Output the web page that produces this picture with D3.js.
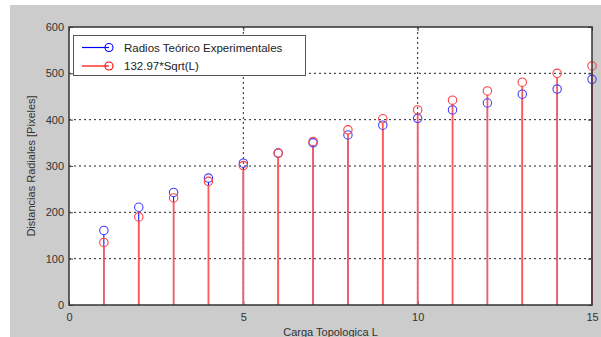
<!DOCTYPE html>
<html><head><meta charset="utf-8">
<script src="https://cdn.jsdelivr.net/npm/d3@7"></script>
<style>body{margin:0;background:#fff;}svg{display:block;font-family:"Liberation Sans",Arial,sans-serif;}</style>
</head><body>
<svg id="c" width="601" height="337"></svg>
<script>
const cargas = [1,2,3,4,5,6,7,8,9,10,11,12,13,14,15];
const radiosExp = [161,211,243,274,306,328,350,367,388,403,421,436,455,466,487];
const radiosTeo = [135,190,231,267,301,328,353,378,402,421,442,462,481,500,516];
const yTicks = [0,100,200,300,400,500,600];
const xTicks = [0,5,10,15];
const legendLabels = ["Radios Teórico Experimentales","132.97*Sqrt(L)"];

const svg = d3.select("#c");
const W=601,H=337;
const m={l:69,t:27,r:592,b:305};
svg.append("rect").attr("x",10).attr("y",5).attr("width",W-10).attr("height",H-5).attr("fill","#cccccc");
svg.append("rect").attr("x",m.l).attr("y",m.t).attr("width",m.r-m.l).attr("height",m.b-m.t).attr("fill","#fff");

const x=d3.scaleLinear().domain([0,15]).range([m.l,m.r]);
const y=d3.scaleLinear().domain([0,600]).range([m.b,m.t]);

const g=svg.append("g");
g.selectAll(".gy").data(yTicks.filter(d=>d>0&&d<600)).enter().append("line")
 .attr("x1",m.l).attr("x2",m.r).attr("y1",d=>y(d)).attr("y2",d=>y(d))
 .attr("stroke","#222").attr("stroke-width",1).attr("stroke-dasharray","2,3");
g.selectAll(".gx").data(xTicks.filter(d=>d>0&&d<15)).enter().append("line")
 .attr("y1",m.t).attr("y2",m.b).attr("x1",d=>x(d)).attr("x2",d=>x(d))
 .attr("stroke","#222").attr("stroke-width",1).attr("stroke-dasharray","2,3");

const ax=d3.axisBottom(x).tickValues(xTicks).tickSize(-4).tickPadding(8);
const ay=d3.axisLeft(y).tickValues(yTicks).tickSize(-4).tickPadding(5);
const gx=svg.append("g").attr("transform",`translate(0,${m.b})`).call(ax);
const gy=svg.append("g").attr("transform",`translate(${m.l},0)`).call(ay);
[gx,gy].forEach(a=>{a.select(".domain").remove();a.selectAll("line").attr("stroke","#444");
 a.selectAll("text").attr("fill","#333").style("font-size","11px").style("font-family","'Liberation Sans',Arial,sans-serif");});
svg.append("g").attr("transform",`translate(0,${m.t})`).call(d3.axisTop(x).tickValues(xTicks).tickSize(-4).tickFormat(""))
 .call(a=>{a.select(".domain").remove();a.selectAll("line").attr("stroke","#444");});
svg.append("g").attr("transform",`translate(${m.r},0)`).call(d3.axisRight(y).tickValues(yTicks).tickSize(-4).tickFormat(""))
 .call(a=>{a.select(".domain").remove();a.selectAll("line").attr("stroke","#444");});

const blue="#0000ff", red="#ff0000";
svg.selectAll(".sb").data(cargas).enter().append("line")
 .attr("x1",d=>x(d)).attr("x2",d=>x(d)).attr("y1",y(0)).attr("y2",(d,i)=>y(radiosExp[i])+4)
 .attr("stroke",blue).attr("stroke-width",1);
svg.selectAll(".sr").data(cargas).enter().append("line")
 .attr("x1",d=>x(d)).attr("x2",d=>x(d)).attr("y1",y(0)).attr("y2",(d,i)=>y(radiosTeo[i])+4)
 .attr("stroke","#ff5a5a").attr("stroke-width",1.8);
svg.selectAll(".cb").data(cargas).enter().append("circle")
 .attr("cx",d=>x(d)).attr("cy",(d,i)=>y(radiosExp[i])).attr("r",4.2)
 .attr("fill","none").attr("stroke","#4040ff").attr("stroke-width",1.1);
svg.selectAll(".cr").data(cargas).enter().append("circle")
 .attr("cx",d=>x(d)).attr("cy",(d,i)=>y(radiosTeo[i])).attr("r",4.2)
 .attr("fill","none").attr("stroke","#ff4040").attr("stroke-width",1.1);

svg.append("path").attr("d",`M${m.l},${m.t}H${m.r}V${m.b}H${m.l}Z`).attr("fill","none").attr("stroke","#333").attr("stroke-width",1.5);

const lg=svg.append("g");
lg.append("rect").attr("x",73.5).attr("y",35.5).attr("width",232).attr("height",40).attr("fill","#fff").attr("stroke","#555").attr("stroke-width",1);
[blue,red].forEach((c,i)=>{
  const yy=47.5+i*18.5;
  lg.append("line").attr("x1",82).attr("x2",109).attr("y1",yy).attr("y2",yy).attr("stroke",c).attr("stroke-width",1.2);
  lg.append("circle").attr("cx",109).attr("cy",yy).attr("r",4).attr("fill","none").attr("stroke",c).attr("stroke-width",1.1);
  lg.append("text").attr("x",124).attr("y",yy+4).text(legendLabels[i]).attr("fill","#222").style("font-size","11.5px");
});

svg.append("text").attr("transform",`translate(35,${(m.t+m.b)/2}) rotate(-90)`).attr("text-anchor","middle")
 .attr("fill","#333").style("font-size","11px").text("Distancias Radiales [Pixeles]");
svg.append("text").attr("x",(m.l+m.r)/2).attr("y",336).attr("text-anchor","middle")
 .attr("fill","#333").style("font-size","11px").text("Carga Topologica L");
</script>
</body></html>
